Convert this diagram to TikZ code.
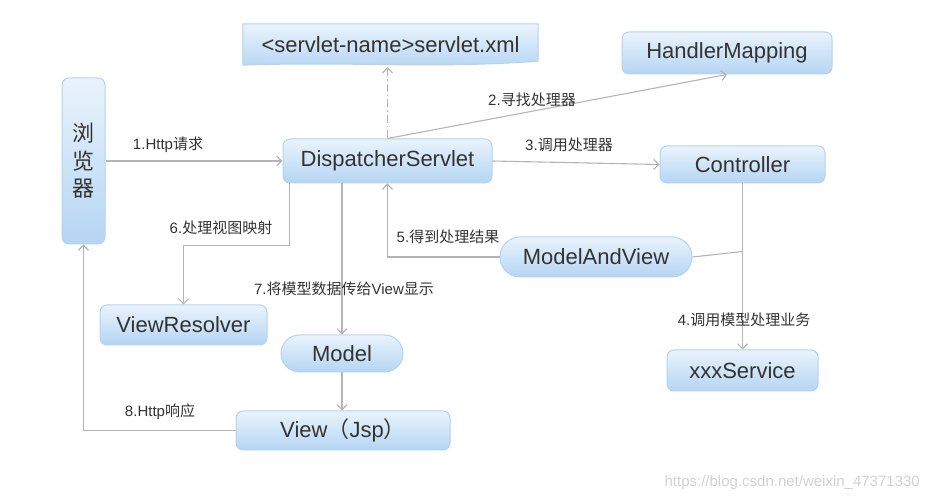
\documentclass[tikz,border=0pt]{standalone}
\usepackage{fontspec}
\setmainfont{Liberation Sans}
\newfontfamily\cjk{Noto Sans CJK SC}
\usetikzlibrary{arrows.meta,positioning,shapes.misc,backgrounds,calc}
\definecolor{boxtop}{HTML}{EAF3FC}
\definecolor{boxbot}{HTML}{B5D5F3}
\definecolor{boxline}{HTML}{B3D3F0}
\definecolor{inkc}{HTML}{333333}
\definecolor{linec}{HTML}{B4B4B4}
\newcommand{\zh}[1]{{\cjk #1}}

\tikzset{
  boxbase/.style={draw=boxline, line width=1pt, top color=boxtop, bottom color=boxbot,
    inner sep=0pt, text=inkc, font=\fontsize{22}{26}\selectfont},
  box/.style={boxbase, rectangle, rounded corners=7pt},
  pill/.style={boxbase, rounded rectangle},
  flow/.style={draw=linec, line width=1.1pt, -{Straight Barb[length=5pt,width=10pt]}},
  link/.style={draw=linec, line width=1.1pt},
  lbl/.style={text=inkc, font=\fontsize{15}{18}\selectfont, inner sep=0pt},
}

\begin{document}
\begin{tikzpicture}[x=1pt,y=-1pt]
\useasboundingbox (0,0) rectangle (930,502);

% nodes
\node[box, minimum width=43pt, minimum height=166pt, align=center,
      font=\cjk\fontsize{22}{27.5}\selectfont] (browser) at (83.5,161) {浏\\览\\器};
\node[inner sep=0pt, minimum width=295pt, minimum height=42pt, text=inkc,
      font=\fontsize{22}{26}\selectfont] (xml) at (390.5,45) {<servlet-name>servlet.xml};
\node[box, minimum width=210pt, minimum height=42pt] (hm) at (727,53) {HandlerMapping};
\node[box, minimum width=209pt, minimum height=44pt] (ds) at (387.5,161) {DispatcherServlet};
\node[box, minimum width=165pt, minimum height=37pt] (ctrl) at (742.5,164.5) {Controller};
\node[pill, minimum width=192pt, minimum height=40pt] (mav) at (596,257) {ModelAndView};
\node[box, minimum width=167pt, minimum height=40pt] (vr) at (183.5,325) {ViewResolver};
\node[pill, minimum width=122pt, minimum height=37pt] (model) at (342,353.5) {Model};
\node[box, minimum width=214pt, minimum height=39pt] (view) at (343,430.5) {View\zh{（}Jsp\zh{）}};
\node[box, minimum width=151pt, minimum height=41pt] (svc) at (742.5,370.5) {xxxService};

% document shape behind servlet.xml
\begin{scope}[on background layer]
\shade[draw=boxline, line width=1pt, top color=boxtop, bottom color=boxbot]
  (xml.north west) -- (xml.north east) -- ([yshift=5pt]xml.south east)
  .. controls ([xshift=-110pt,yshift=-3pt]xml.south east) and ([xshift=110pt,yshift=5pt]xml.south west)
  .. ([yshift=1pt]xml.south west) -- cycle;
\end{scope}

% connectors
\draw[flow] (browser.east |- ds.west) -- (ds.west);
\draw[flow] (ds.north) -- (hm.south);
\draw[flow, dash pattern=on 8pt off 3pt on 1.5pt off 3pt] (ds.north) -- ([yshift=-1pt]ds.north |- xml.south);
\draw[flow] (ds.east) -- (ctrl.west);
\draw[flow] (ctrl.south) -- (svc.north);
\coordinate (back) at ($(ctrl.south)!0.41!(svc.north)$);
\draw[link] (mav.east) -- (back);
\draw[flow] (mav.west) -| (ds.south);
\draw[flow] ([xshift=7pt]ds.south west) -- ++(0,62) -| (vr.north);
\draw[flow] (model.north |- ds.south) -- (model.north);
\draw[flow] (model.south) -- (model.south |- view.north);
\draw[flow] (view.west) -| (browser.south);

% labels
\node[lbl] (l1) at (168,145) {1.Http\zh{请求}};
\node[lbl] (l2) at (532,100) {2.\zh{寻找处理器}};
\node[lbl] (l3) at (569,145) {3.\zh{调用处理器}};
\node[lbl] (l4) at (744,320) {4.\zh{调用模型处理业务}};
\node[lbl] (l5) at (448,237) {5.\zh{得到处理结果}};
\node[lbl] (l6) at (221,228) {6.\zh{处理视图映射}};
\node[lbl] (l7) at (344,289) {7.\zh{将模型数据传给}View\zh{显示}};
\node[lbl] (l8) at (160,412) {8.Http\zh{响应}};

\node[text=gray!35, font=\fontsize{15}{18}\selectfont, anchor=east, inner sep=0pt] (mark) at (920,483)
  {https://blog.csdn.net/weixin\_47371330};
\end{tikzpicture}
\end{document}
